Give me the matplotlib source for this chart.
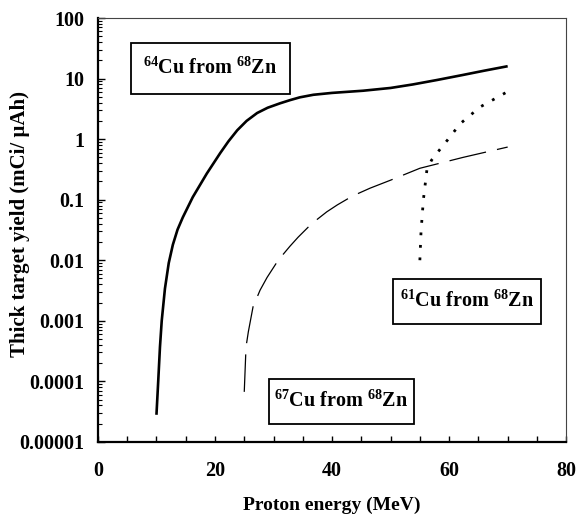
import matplotlib
matplotlib.use("Agg")
import matplotlib.pyplot as plt
from matplotlib.patches import Rectangle
from matplotlib.ticker import FixedLocator, MultipleLocator, LogLocator, NullFormatter

plt.rcParams['font.family'] = ['Liberation Serif', 'DejaVu Serif']
plt.rcParams['font.weight'] = 'bold'
plt.rcParams['mathtext.default'] = 'regular'

# data
cu64_energy = [10.0, 10.3, 10.6, 10.9, 11.45, 12.1, 12.8, 13.6, 14.5, 16.2, 18.6, 20.9, 22.3,
               23.8, 25.4, 27.2, 29.0, 31.1, 32.8, 34.5, 36.8, 40.0, 45.3, 50.0, 53.8,
               58.0, 62.4, 66.0, 70.0]
cu64_yield = [2.8e-5, 1.0e-4, 3.7e-4, 1.0e-3, 3.4e-3, 0.009, 0.018, 0.032, 0.051, 0.11, 0.27,
              0.59, 0.92, 1.4, 2.0, 2.7, 3.3, 3.9, 4.4, 4.9, 5.4, 5.8, 6.3, 7.0, 8.0,
              9.5, 11.5, 13.5, 16.0]

cu67_energy = [25.0, 25.3, 25.7, 26.5, 27.7, 28.9, 30.8, 32.8, 34.2, 36.5, 39.1, 40.9,
               43.5, 46.5, 50.0, 55.0, 62.4, 70.0]
cu67_yield = [6.7e-5, 3.7e-4, 6.6e-4, 1.7e-3, 3.2e-3, 5.2e-3, 0.010, 0.017, 0.024, 0.040,
              0.063, 0.082, 0.115, 0.155, 0.21, 0.33, 0.5, 0.74]

cu61_energy = [55.0, 55.2, 55.6, 56.2, 57.0, 58.0, 59.7, 61.9, 65.3, 70.0]
cu61_yield = [0.01, 0.03, 0.1, 0.31, 0.45, 0.6, 0.96, 1.8, 3.4, 6.1]

y_ticks = [1e-5, 1e-4, 1e-3, 1e-2, 1e-1, 1, 10, 100]
y_labels = ["0.00001", "0.0001", "0.001", "0.01", "0.1", "1", "10", "100"]
x_ticks = [0, 20, 40, 60, 80]

fig = plt.figure(figsize=(5.76, 5.15), dpi=100)
ax = fig.add_axes([0.170, 0.142, 0.813, 0.823])

ax.plot(cu64_energy, cu64_yield, color='black', lw=1.9, solid_capstyle='butt')
ax.plot(cu67_energy, cu67_yield, color='black', lw=0.9, dashes=(30, 9))
ax.plot(cu61_energy, cu61_yield, color='black', lw=2.0, dashes=(1.0, 3.5), dash_capstyle='butt')

ax.set_yscale('log')
ax.set_ylim(1e-5, 100)
ax.set_xlim(0, 80)

ax.yaxis.set_major_locator(FixedLocator(y_ticks))
ax.set_yticklabels(y_labels)
ax.yaxis.set_minor_locator(LogLocator(base=10, subs=range(2, 10), numticks=20))
ax.yaxis.set_minor_formatter(NullFormatter())
ax.xaxis.set_major_locator(FixedLocator(x_ticks))
ax.xaxis.set_minor_locator(MultipleLocator(5))

ax.tick_params(axis='y', which='major', direction='in', length=5, width=1, pad=10, labelsize=14.5)
ax.tick_params(axis='y', which='minor', direction='in', length=3, width=0.8)
ax.tick_params(axis='x', which='both', direction='in', length=4.5, width=1, pad=14, labelsize=14.5)

for side in ['left', 'bottom']:
    ax.spines[side].set_linewidth(1.6)
for side in ['top', 'right']:
    ax.spines[side].set_linewidth(0.8)
    ax.spines[side].set_color('#444444')

ax.set_xlabel("Proton energy (MeV)", fontsize=14, fontweight='bold', labelpad=11)
ax.set_ylabel("Thick target yield (mCi/ \u00b5Ah)", fontsize=15, fontweight='bold')
ax.yaxis.set_label_coords(-0.145, 0.515)

# label boxes
boxes = [
    ((0.0705, 0.821), 0.3395, 0.120, "$^{64}$Cu from $^{68}$Zn"),
    ((0.365, 0.0425), 0.310, 0.1065, "$^{67}$Cu from $^{68}$Zn"),
    ((0.630, 0.278), 0.317, 0.106, "$^{61}$Cu from $^{68}$Zn"),
]
for (x0, y0), w, h, label in boxes:
    ax.add_patch(Rectangle((x0, y0), w, h, transform=ax.transAxes, fill=False,
                           edgecolor='black', lw=1.3, zorder=3))
    ax.text(x0 + w / 2, y0 + h / 2, label, transform=ax.transAxes, ha='center', va='center',
            fontsize=14.5, fontweight='bold')

fig.savefig("out.png", dpi=100)
